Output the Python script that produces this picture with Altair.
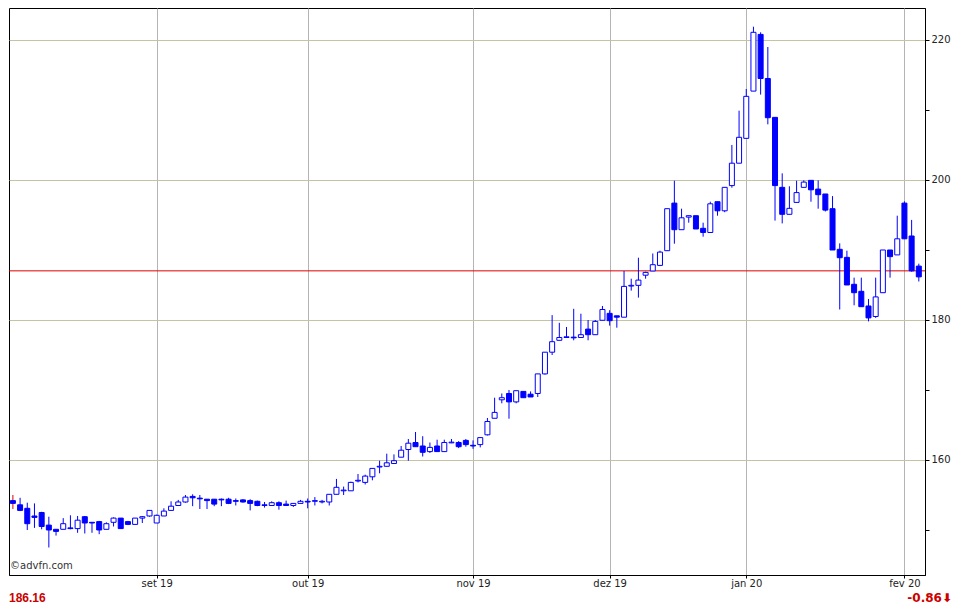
import altair as alt
import pandas as pd

# ---- data ----
opens = [154.2, 153.6, 153.1, 152.0, 152.5, 150.7, 150.1, 150.1, 150.3, 150.2,
         151.9, 151.1, 151.2, 150.1, 151.1, 151.7, 151.2, 150.8, 151.7, 152.0,
         151.0, 152.0, 152.8, 153.5, 154.0, 154.8, 154.55, 154.4, 154.4, 154.4,
         154.4, 154.2, 154.3, 154.2, 154.1, 153.6, 153.5, 153.9, 153.7, 153.5,
         153.8, 154.1, 154.1, 154.0, 154.0, 155.1, 155.6, 155.6, 157.0, 156.8,
         157.6, 159.0, 159.1, 159.5, 160.4, 161.5, 162.5, 162.0, 161.2, 162.0,
         161.2, 162.45, 162.5, 162.8, 162.1, 162.2, 163.6, 165.96, 168.6, 169.5,
         168.3, 169.8, 169.4, 169.5, 172.3, 175.4, 177.1, 177.5, 177.55, 177.5,
         178.7, 177.9, 179.96, 180.95, 180.6, 180.4, 184.85, 184.95, 186.4, 187.0,
         187.8, 189.9, 196.7, 192.9, 194.7, 194.9, 193.1, 192.5, 196.9, 195.6,
         199.2, 202.4, 205.95, 212.7, 220.8, 214.5, 208.95, 198.95, 195.1, 196.8,
         198.95, 199.95, 198.7, 198.0, 195.9, 190.1, 188.95, 185.1, 184.1, 182.0,
         180.5, 183.9, 190.0, 189.3, 196.7, 192.0, 187.7]
highs = [155.0, 154.6, 153.9, 153.8, 152.6, 151.9, 150.1, 151.7, 152.1, 152.0,
         152.0, 151.1, 151.3, 151.1, 151.8, 151.7, 151.3, 151.7, 152.0, 152.8,
         152.2, 153.1, 154.1, 154.3, 155.0, 155.1, 155.0, 154.4, 154.4, 154.5,
         154.6, 154.5, 154.4, 154.4, 154.2, 154.0, 154.1, 154.1, 154.2, 153.8,
         154.3, 154.5, 154.7, 154.3, 155.1, 157.3, 156.2, 156.9, 158.0, 157.9,
         158.8, 159.9, 160.9, 160.8, 162.0, 163.0, 164.0, 163.4, 162.5, 162.9,
         162.9, 163.0, 162.7, 163.0, 162.8, 163.2, 166.0, 168.9, 169.5, 170.0,
         169.9, 169.8, 169.8, 172.3, 175.4, 180.7, 179.6, 179.0, 181.6, 180.9,
         180.0, 180.0, 182.0, 181.4, 180.6, 187.0, 185.9, 188.9, 186.9, 189.5,
         189.9, 195.9, 199.9, 195.9, 194.9, 194.9, 193.9, 196.9, 196.9, 198.95,
         205.0, 209.9, 213.0, 221.9, 221.1, 219.0, 208.95, 200.95, 199.1, 199.9,
         199.95, 199.95, 199.95, 198.0, 197.7, 190.95, 189.9, 186.05, 186.05, 183.0,
         186.05, 190.0, 190.0, 194.9, 196.95, 194.3, 188.05]
lows = [153.0, 152.7, 150.0, 150.3, 150.1, 147.5, 149.2, 150.1, 150.1, 149.6,
        149.5, 149.6, 149.4, 150.1, 150.5, 150.2, 150.7, 150.8, 151.0, 151.9,
        151.0, 152.0, 152.8, 153.5, 153.9, 153.4, 153.0, 153.0, 153.4, 153.4,
        153.7, 153.5, 153.9, 152.8, 153.4, 153.2, 153.5, 152.9, 153.5, 153.3,
        153.8, 153.1, 153.5, 153.8, 153.5, 155.1, 155.0, 155.6, 156.8, 156.5,
        157.1, 158.1, 159.1, 159.5, 160.4, 159.9, 161.9, 160.5, 161.0, 161.2,
        161.2, 162.4, 161.7, 161.9, 161.6, 161.8, 163.5, 165.96, 168.1, 165.9,
        168.1, 168.9, 169.0, 169.0, 172.2, 175.0, 177.1, 177.5, 177.1, 177.5,
        177.1, 177.9, 179.96, 179.2, 178.9, 180.4, 184.2, 183.2, 185.9, 187.0,
        187.7, 189.9, 190.9, 192.9, 193.9, 193.0, 191.9, 192.5, 194.9, 195.4,
        198.9, 202.4, 205.95, 212.7, 212.2, 207.95, 194.2, 193.8, 195.1, 196.8,
        198.95, 196.9, 195.9, 195.5, 190.0, 181.5, 185.0, 182.1, 181.9, 179.8,
        180.3, 183.9, 186.05, 189.3, 191.6, 186.9, 185.5]
closes = [153.8, 152.8, 150.9, 151.8, 150.5, 150.0, 149.8, 150.9, 150.2, 151.4,
          151.0, 151.0, 150.0, 150.9, 151.7, 150.2, 150.8, 151.7, 151.9, 152.8,
          152.1, 152.7, 153.4, 154.0, 154.7, 154.6, 154.45, 154.2, 153.7, 154.3,
          153.8, 154.1, 154.0, 153.8, 153.5, 153.5, 153.9, 153.5, 153.5, 153.8,
          154.1, 154.0, 154.2, 154.1, 155.1, 156.1, 155.7, 156.8, 157.1, 157.7,
          158.8, 159.1, 159.6, 159.9, 161.4, 162.4, 161.9, 161.1, 161.8, 161.2,
          162.5, 162.55, 161.9, 162.2, 162.0, 163.2, 165.5, 166.8, 168.9, 168.3,
          169.9, 168.9, 169.0, 172.3, 175.4, 176.9, 177.5, 177.6, 177.45, 177.9,
          177.9, 179.8, 181.5, 179.9, 180.4, 184.8, 184.95, 185.7, 186.8, 187.9,
          189.7, 195.9, 192.9, 194.6, 194.9, 193.0, 192.5, 196.6, 195.6, 198.95,
          202.4, 206.1, 211.95, 221.1, 214.5, 208.9, 199.2, 195.1, 195.95, 198.2,
          199.7, 198.6, 197.9, 195.7, 190.0, 188.9, 185.0, 183.9, 181.9, 180.3,
          183.3, 190.0, 189.05, 191.6, 191.6, 187.02, 186.16]

month_ticks = [20, 41, 64, 83, 102, 124]
month_labels = ["set 19", "out 19", "nov 19", "dez 19", "jan 20", "fev 20"]
y_ticks = [150, 160, 170, 180, 190, 200, 210, 220]
prev_close = 187.02
last_text = "186.16"
change_text = "-0.86\u2b07"
credit_text = "\u00a9advfn.com"

BLUE = "#0000ff"

df = pd.DataFrame({
    "i": list(range(len(opens))),
    "o": opens, "h": highs, "l": lows, "c": closes,
})

W, H = 916, 567
xscale = alt.Scale(domain=[-0.542, 126.86], nice=False, zero=False, padding=0)
yscale = alt.Scale(domain=[143.571, 224.571], nice=False, zero=False, padding=0)

label_expr = " : ".join(
    f"datum.value == {t} ? '{lab}'" for t, lab in zip(month_ticks, month_labels)
) + " : ''"

x_enc = alt.X("i:Q", scale=xscale, axis=alt.Axis(
    values=month_ticks, labelExpr=label_expr, title="", orient="bottom",
    grid=True, gridColor="#b4b4b4", tickSize=3, tickColor="#000",
    domainColor="#000", labelFont="DejaVu Sans", labelFontSize=10,
    labelColor="#222", labelPadding=0, labelFlush=False))

base = alt.Chart(df)

wicks = base.mark_rule(strokeWidth=1).encode(
    x=x_enc,
    y=alt.Y("l:Q", scale=yscale, axis=alt.Axis(
        values=y_ticks, orient="right", title="",
        labelExpr="datum.value % 20 === 0 ? datum.label : ''",
        grid=True, gridColor="#c4c4a4",
        gridOpacity={"condition": {"test": "datum.value % 20 === 0", "value": 1}, "value": 0},
        tickSize=4, tickColor="#000", domainColor="#000",
        labelFont="DejaVu Sans", labelFontSize=10, labelColor="#222",
        labelPadding=2)),
    y2="h:Q",
    color=alt.condition("datum.i == 0", alt.value("#dd0000"), alt.value(BLUE)),
)

bodies = base.mark_bar(size=5, stroke=BLUE, strokeWidth=1).encode(
    x="i:Q",
    y="o:Q",
    y2="c:Q",
    fill=alt.condition("datum.c >= datum.o", alt.value("white"), alt.value(BLUE)),
)

pc_line = alt.Chart(pd.DataFrame({"v": [prev_close]})).mark_rule(
    color="#dd0000", strokeWidth=1).encode(y="v:Q")

credit = alt.Chart(pd.DataFrame({"t": [credit_text]})).mark_text(
    align="left", baseline="middle", font="DejaVu Sans", fontSize=10,
    color="#333").encode(x=alt.value(1), y=alt.value(558), text="t:N")

last_lbl = alt.Chart(pd.DataFrame({"t": [last_text]})).mark_text(
    align="left", baseline="middle", font="Liberation Sans", fontSize=12,
    fontWeight="bold", color="#cc0000").encode(
    x=alt.value(0), y=alt.value(590), text="t:N")

chg_lbl = alt.Chart(pd.DataFrame({"t": [change_text]})).mark_text(
    align="right", baseline="middle", font="DejaVu Sans", fontSize=12,
    fontWeight="bold", color="#cc0000").encode(
    x=alt.value(943), y=alt.value(590), text="t:N")

chart = alt.layer(pc_line, wicks, bodies, credit, last_lbl, chg_lbl).properties(
    width=W, height=H, padding=0, background="white"
).configure_view(stroke="#000", strokeWidth=1)

chart.save("out.html", embed_options={"renderer": "svg", "actions": False})
